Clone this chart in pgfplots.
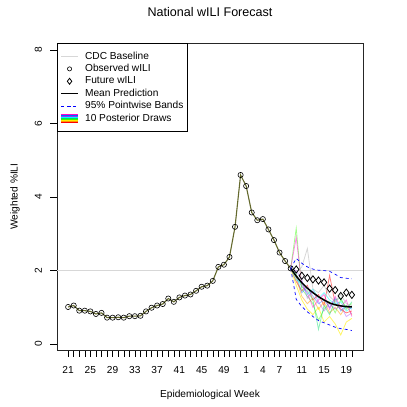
\documentclass[border=0pt]{standalone}
\usepackage{fontspec}
\setmainfont{Liberation Sans}
\usepackage{pgfplots}
\pgfplotsset{compat=1.18}

\definecolor{cdcgray}{RGB}{215,215,215}
\definecolor{obsline}{RGB}{100,105,45}
\definecolor{drA}{HTML}{FF0000}
\definecolor{drB}{HTML}{FF9900}
\definecolor{drC}{HTML}{FFEE00}
\definecolor{drD}{HTML}{33FF00}
\definecolor{drE}{HTML}{00DD66}
\definecolor{drF}{HTML}{00FFFF}
\definecolor{drG}{HTML}{0066FF}
\definecolor{drH}{HTML}{9933FF}
\definecolor{drI}{HTML}{FF00CC}
\definecolor{drJ}{HTML}{B0B0B0}

\begin{document}
\begin{tikzpicture}
\useasboundingbox (0,0) rectangle (407bp,407bp);
\begin{axis}[
    at={(57bp,57bp)}, anchor=south west,
    scale only axis,
    width=306bp, height=307bp,
    xmin=-2, xmax=53,
    ymin=-0.16, ymax=8.19,
    font=\fontsize{10.2}{12.2}\selectfont,
    /pgf/number format/assume math mode=true,
    axis line style={black!85, line width=0.8bp},
    tick align=outside,
    major tick length=6.5bp,
    tick style={black, line width=0.5bp},
    xtick pos=bottom, ytick pos=left,
    xtick={0,...,51},
    xticklabels={21,{},{},{},25,{},{},{},29,{},{},{},33,{},{},{},37,{},{},{},41,{},{},{},45,{},{},{},49,{},{},{},1,{},{},4,{},{},7,{},{},{},11,{},{},{},15,{},{},{},19,{}},
    ytick={0,2,4,6,8},
    yticklabel style={rotate=90, anchor=south},
    xticklabel shift=6bp,
    yticklabel shift=5bp,
    xlabel={Epidemiological Week},
    ylabel={Weighted \%ILI},
    xlabel style={at={(axis description cs:0.5,-0.1466)}, anchor=center},
    ylabel style={at={(axis description cs:-0.137,0.5)}, anchor=center},
    title={National wILI Forecast},
    title style={at={(axis description cs:0.5,1.083)}, anchor=center, font=\fontsize{12.6}{15}\selectfont},
    legend cell align=left,
    legend style={at={(0,1)}, anchor=north west, draw=black, line width=0.6bp, fill=white,
        inner xsep=3bp, inner ysep=7bp, row sep=0bp, column sep=5bp,
        nodes={text height=7.5bp, text depth=2.3bp, inner sep=1.3bp},
        font=\fontsize{10.2}{12.2}\selectfont},
]
% legend entries
\addlegendimage{line width=1.5bp, cdcgray}
\addlegendentry{CDC Baseline}
\addlegendimage{only marks, mark=o, mark size=2.1bp, black, mark options={line width=0.6bp}}
\addlegendentry{Observed wILI}
\addlegendimage{only marks, mark=diamond, mark size=3bp, black, mark options={line width=0.8bp}}
\addlegendentry{Future wILI}
\addlegendimage{line width=1.5bp, black}
\addlegendentry{Mean Prediction}
\addlegendimage{blue, line width=0.7bp, dash pattern=on 3bp off 3bp}
\addlegendentry{95\% Pointwise Bands}
\addlegendimage{legend image code/.code={
    \draw[drI, line width=1bp] (0bp,3.6bp) -- (17bp,3.6bp);
    \draw[drG, line width=1bp] (0bp,2.7bp) -- (17bp,2.7bp);
    \draw[drH, line width=1bp] (0bp,1.8bp) -- (17bp,1.8bp);
    \draw[drF, line width=1bp] (0bp,0.9bp) -- (17bp,0.9bp);
    \draw[drE, line width=1bp] (0bp,0bp) -- (17bp,0bp);
    \draw[drD, line width=1bp] (0bp,-0.9bp) -- (17bp,-0.9bp);
    \draw[drC, line width=1bp] (0bp,-1.8bp) -- (17bp,-1.8bp);
    \draw[drB, line width=1bp] (0bp,-2.7bp) -- (17bp,-2.7bp);
    \draw[drA, line width=1bp] (0bp,-3.6bp) -- (17bp,-3.6bp);
}}
\addlegendentry{10 Posterior Draws}

% CDC baseline
\addplot[forget plot, cdcgray, line width=1.5bp] coordinates {(-2,2.0) (53,2.0)};

% observed history line
\addplot[forget plot, obsline, line width=1.1bp] coordinates {
(0,1.01) (1,1.05) (2,0.91) (3,0.91) (4,0.89) (5,0.82) (6,0.85) (7,0.72) (8,0.72) (9,0.73)
(10,0.72) (11,0.76) (12,0.76) (13,0.77) (14,0.89) (15,0.99) (16,1.05) (17,1.09) (18,1.24) (19,1.15)
(20,1.27) (21,1.32) (22,1.35) (23,1.45) (24,1.56) (25,1.59) (26,1.72) (27,2.10) (28,2.16) (29,2.37)
(30,3.19) (31,4.60) (32,4.30) (33,3.58) (34,3.37) (35,3.40) (36,3.12) (37,2.83) (38,2.49) (39,2.26)
(40,2.06)};

% posterior draws
\addplot[forget plot, drA, draw opacity=0.5, line width=0.8bp] coordinates {
(40,2.06) (41,1.70) (42,1.45) (43,1.60) (44,1.20) (45,1.35) (46,1.05) (47,1.87) (48,1.10) (49,0.95) (50,0.85) (51,0.90)};
\addplot[forget plot, drB, draw opacity=0.5, line width=0.8bp] coordinates {
(40,2.06) (41,1.80) (42,1.30) (43,1.10) (44,1.25) (45,0.95) (46,1.15) (47,0.85) (48,1.00) (49,0.80) (50,1.05) (51,0.80)};
\addplot[forget plot, drC, draw opacity=0.6, line width=0.8bp] coordinates {
(40,2.06) (41,1.60) (42,1.20) (43,0.95) (44,0.80) (45,1.00) (46,0.60) (47,0.75) (48,0.55) (49,0.25) (50,0.60) (51,0.70)};
\addplot[forget plot, drD, draw opacity=0.45, line width=0.8bp] coordinates {
(40,2.06) (41,3.15) (42,1.50) (43,1.30) (44,1.10) (45,0.65) (46,0.95) (47,1.15) (48,0.85) (49,1.20) (50,1.00) (51,1.10)};
\addplot[forget plot, drE, draw opacity=0.45, line width=0.8bp] coordinates {
(40,2.06) (41,1.90) (42,1.55) (43,1.45) (44,1.20) (45,0.40) (46,1.05) (47,0.80) (48,1.20) (49,1.25) (50,0.95) (51,1.15)};
\addplot[forget plot, drF, draw opacity=0.5, line width=0.8bp] coordinates {
(40,2.06) (41,1.75) (42,1.65) (43,1.35) (44,1.50) (45,1.25) (46,1.40) (47,1.20) (48,1.10) (49,1.15) (50,0.90) (51,1.00)};
\addplot[forget plot, drG, draw opacity=0.4, line width=0.8bp] coordinates {
(40,2.06) (41,1.85) (42,1.40) (43,1.55) (44,1.30) (45,1.10) (46,1.20) (47,1.00) (48,1.25) (49,0.90) (50,1.05) (51,0.95)};
\addplot[forget plot, drH, draw opacity=0.4, line width=0.8bp] coordinates {
(40,2.06) (41,2.00) (42,1.75) (43,1.25) (44,1.45) (45,1.15) (46,0.90) (47,1.10) (48,0.95) (49,1.05) (50,0.75) (51,0.85)};
\addplot[forget plot, drI, draw opacity=0.45, line width=0.8bp] coordinates {
(40,2.06) (41,2.90) (42,1.60) (43,1.40) (44,1.00) (45,1.20) (46,1.35) (47,0.95) (48,1.30) (49,1.00) (50,1.20) (51,0.75)};
\addplot[forget plot, drJ, draw opacity=0.5, line width=0.8bp] coordinates {
(40,2.06) (41,1.95) (42,2.10) (43,2.60) (44,1.50) (45,1.40) (46,1.60) (47,1.30) (48,1.15) (49,1.35) (50,1.10) (51,1.05)};

% mean prediction
\addplot[forget plot, black, line width=1.5bp] coordinates {
(40,2.06) (41,1.85) (42,1.67) (43,1.52) (44,1.40) (45,1.29) (46,1.20) (47,1.12) (48,1.07) (49,1.04) (50,1.02) (51,1.01)};

% 95% pointwise bands
\addplot[forget plot, blue, line width=0.7bp, dash pattern=on 3bp off 3bp] coordinates {
(40,2.06) (41,2.33) (42,2.20) (43,2.10) (44,2.04) (45,2.01) (46,2.00) (47,1.98) (48,1.90) (49,1.81) (50,1.79) (51,1.78)};
\addplot[forget plot, blue, line width=0.7bp, dash pattern=on 3bp off 3bp] coordinates {
(40,2.06) (41,1.22) (42,1.02) (43,0.88) (44,0.75) (45,0.64) (46,0.58) (47,0.52) (48,0.46) (49,0.42) (50,0.40) (51,0.37)};

% observed points
\addplot[forget plot, only marks, mark=o, mark size=2.6bp, black, mark options={line width=0.6bp}] coordinates {
(0,1.01) (1,1.05) (2,0.91) (3,0.91) (4,0.89) (5,0.82) (6,0.85) (7,0.72) (8,0.72) (9,0.73)
(10,0.72) (11,0.76) (12,0.76) (13,0.77) (14,0.89) (15,0.99) (16,1.05) (17,1.09) (18,1.24) (19,1.15)
(20,1.27) (21,1.32) (22,1.35) (23,1.45) (24,1.56) (25,1.59) (26,1.72) (27,2.10) (28,2.16) (29,2.37)
(30,3.19) (31,4.60) (32,4.30) (33,3.58) (34,3.37) (35,3.40) (36,3.12) (37,2.83) (38,2.49) (39,2.26)
(40,2.06)};

% future points
\addplot[forget plot, only marks, mark=diamond, mark size=3.6bp, black, mark options={line width=0.8bp}] coordinates {
(41,2.03) (42,1.86) (43,1.80) (44,1.76) (45,1.73) (46,1.68) (47,1.51) (48,1.47) (49,1.31) (50,1.40) (51,1.34)};
\end{axis}
\end{tikzpicture}
\end{document}
